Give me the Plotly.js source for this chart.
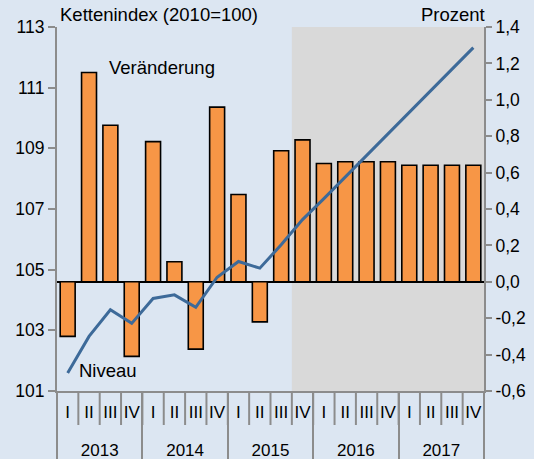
<!DOCTYPE html>
<html>
<head>
<meta charset="utf-8">
<script src="https://cdn.plot.ly/plotly-3.0.1.min.js"></script>
<style>html,body{margin:0;padding:0;background:#dce6f2;}#chart{width:534px;height:459px;}</style>
</head>
<body>
<div id="chart"></div>
<script>
// Categories
const years = ["2013","2013","2013","2013","2014","2014","2014","2014","2015","2015","2015","2015","2016","2016","2016","2016","2017","2017","2017","2017"];
const quarters = ["I","II","III","IV","I","II","III","IV","I","II","III","IV","I","II","III","IV","I","II","III","IV"];
// Veränderung gegenüber Vorquartal (Prozent, rechte Achse)
const veraenderung = [-0.30, 1.15, 0.86, -0.41, 0.77, 0.11, -0.37, 0.96, 0.48, -0.22, 0.72, 0.78, 0.65, 0.66, 0.66, 0.66, 0.64, 0.64, 0.64, 0.64];
// Niveau, Kettenindex 2010=100 (linke Achse)
const niveau = [101.59, 102.80, 103.68, 103.23, 104.05, 104.17, 103.76, 104.75, 105.27, 105.05, 105.82, 106.65, 107.34, 108.05, 108.77, 109.49, 110.19, 110.90, 111.61, 112.32];
// Prognose ab
const forecastStartIndex = 11;
// Tick values
const leftTicks = [101, 103, 105, 107, 109, 111, 113];
const rightTicks = [-0.6, -0.4, -0.2, 0.0, 0.2, 0.4, 0.6, 0.8, 1.0, 1.2, 1.4];
const rightTickText = rightTicks.map(v => v.toFixed(1).replace('.', ','));

const FONT = "Liberation Sans, Arial, sans-serif";
const AXIS_GRAY = "#8c8c8c";
const n = quarters.length;
const plotH = 459 - 27 - 68;
// extra blank line under each quarter label leaves room between the two label rows
const quarterLabels = quarters.map(q => q + "<br>\u00a0");
const xCats = [years, quarterLabels];

const traces = [
  {
    type: "bar",
    x: xCats,
    y: veraenderung,
    yaxis: "y",
    marker: {color: "#f79646", line: {color: "#000000", width: 1.6}},
    hoverinfo: "skip"
  },
  {
    type: "scatter",
    mode: "lines",
    x: xCats,
    y: niveau,
    yaxis: "y2",
    line: {color: "#3d6a99", width: 3},
    hoverinfo: "skip"
  }
];

// quarter boundary tick marks below the axis
const shapes = [
  {
    type: "rect", xref: "paper", yref: "paper",
    x0: forecastStartIndex / n, x1: 1, y0: 0, y1: 1,
    fillcolor: "#d9d9d9", line: {width: 0}, layer: "below"
  }
];
for (let i = 1; i < n; i++) {
  shapes.push({
    type: "line", xref: "paper", yref: "paper",
    x0: i / n, x1: i / n, y0: 0, y1: -34 / plotH,
    line: {color: AXIS_GRAY, width: 2}
  });
}

const layout = {
  width: 534,
  height: 459,
  margin: {l: 57, r: 50, t: 27, b: 68},
  paper_bgcolor: "#dce6f2",
  plot_bgcolor: "#dce6f2",
  showlegend: false,
  bargap: 0.3,
  font: {family: FONT, size: 17, color: "#000000"},
  xaxis: {
    type: "multicategory",
    showline: true, linecolor: AXIS_GRAY, linewidth: 2,
    ticks: "", tickangle: 0,
    ticklabelstandoff: 5,
    showdividers: true, dividercolor: AXIS_GRAY, dividerwidth: 2,
    showgrid: false, zeroline: false,
    tickfont: {family: FONT, size: 17, color: "#000"}
  },
  yaxis: {
    side: "right",
    range: [-0.6, 1.4],
    tickmode: "array", tickvals: rightTicks, ticktext: rightTickText,
    ticks: "outside", ticklen: 6, tickwidth: 2, tickcolor: AXIS_GRAY,
    showline: true, linecolor: AXIS_GRAY, linewidth: 2,
    showgrid: false,
    zeroline: true, zerolinecolor: "#000000", zerolinewidth: 2,
    tickfont: {family: FONT, size: 17.5, color: "#000"}
  },
  yaxis2: {
    overlaying: "y",
    side: "left",
    range: [101, 113],
    tickmode: "array", tickvals: leftTicks,
    ticks: "outside", ticklen: 7, tickwidth: 2, tickcolor: AXIS_GRAY,
    showline: true, linecolor: AXIS_GRAY, linewidth: 2,
    showgrid: false, zeroline: false,
    tickfont: {family: FONT, size: 17.5, color: "#000"}
  },
  shapes: shapes,
  annotations: [
    {text: "Kettenindex (2010=100)", xref: "paper", yref: "paper", x: 0, y: 1, xanchor: "left", yanchor: "bottom", xshift: 1, showarrow: false, font: {family: FONT, size: 18.5}},
    {text: "Prozent", xref: "paper", yref: "paper", x: 1, y: 1, xanchor: "right", yanchor: "bottom", xshift: 3, showarrow: false, font: {family: FONT, size: 18.5}},
    {text: "Veränderung", xref: "paper", yref: "paper", x: 0.246, y: 0.89, xanchor: "center", yanchor: "middle", showarrow: false, font: {family: FONT, size: 18.5}},
    {text: "Niveau", xref: "paper", yref: "paper", x: 0.119, y: 0.055, xanchor: "center", yanchor: "middle", showarrow: false, font: {family: FONT, size: 18.5}}
  ]
};

Plotly.newPlot("chart", traces, layout, {displayModeBar: false, staticPlot: true});
</script>
</body>
</html>
